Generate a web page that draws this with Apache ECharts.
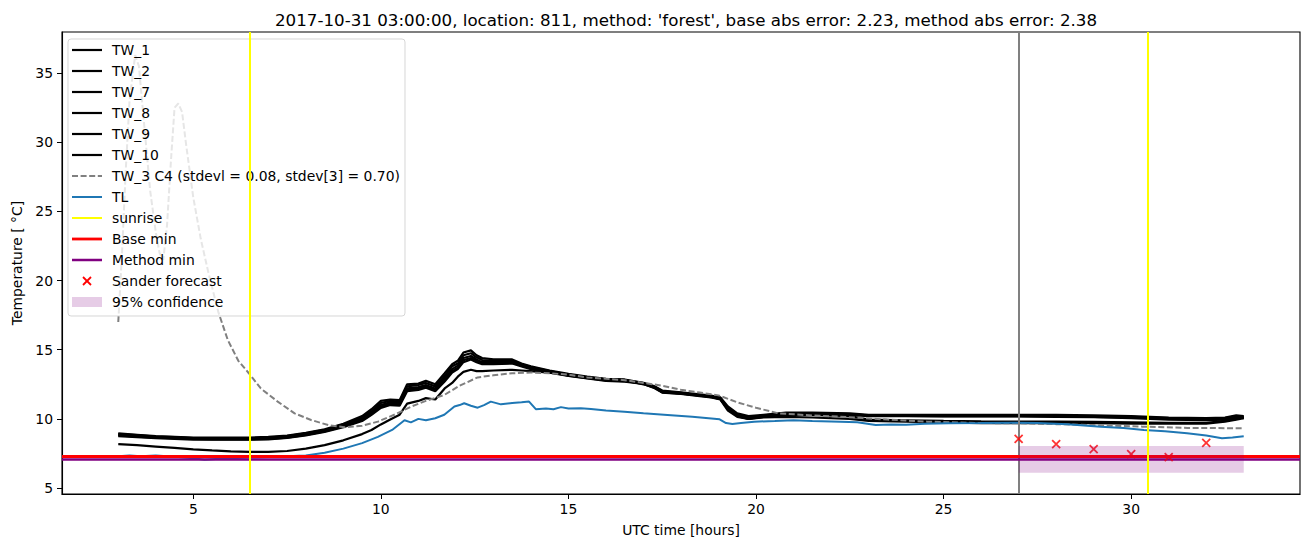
<!DOCTYPE html>
<html>
<head>
<meta charset="utf-8">
<script src="https://cdn.jsdelivr.net/npm/echarts@6/dist/echarts.min.js"></script>
<style>
html,body{margin:0;padding:0;background:#fff;}
#chart{width:1310px;height:547px;}
</style>
</head>
<body>
<div id="chart"></div>
<script>
// ---------- data ----------
const titleText = "2017-10-31 03:00:00, location: 811, method: 'forest', base abs error: 2.23, method abs error: 2.38";
const xTicks = [5, 10, 15, 20, 25, 30];
const yTicks = [5, 10, 15, 20, 25, 30, 35];

const twHours = [3, 3.5, 4, 4.5, 5, 5.5, 6, 6.5, 7, 7.5, 8, 8.5, 9, 9.5, 9.75, 10, 10.25, 10.5, 10.7, 11, 11.2, 11.45, 11.7, 11.9, 12.05, 12.2, 12.4, 12.55, 12.7, 13, 13.5, 13.75, 14, 14.5, 15, 15.5, 16, 16.5, 17, 17.3, 17.5, 18, 18.5, 18.8, 19.05, 19.25, 19.5, 19.8, 20.2, 20.8, 21.5, 22.5, 23, 24, 25, 26, 27, 28, 29, 30, 31, 32, 32.5, 32.8, 33];

const tw1 = [8.95, 8.85, 8.75, 8.7, 8.65, 8.65, 8.65, 8.65, 8.7, 8.8, 9.0, 9.25, 9.65, 10.2, 10.7, 11.3, 11.4, 11.35, 12.5, 12.55, 12.75, 12.5, 13.3, 13.95, 14.2, 14.8, 14.95, 14.6, 14.4, 14.3, 14.3, 14.0, 13.8, 13.5, 13.25, 13.05, 12.9, 12.85, 12.6, 12.35, 12.05, 11.92, 11.78, 11.68, 11.55, 10.9, 10.4, 10.2, 10.3, 10.45, 10.45, 10.4, 10.3, 10.3, 10.3, 10.3, 10.3, 10.3, 10.25, 10.2, 10.1, 10.05, 10.1, 10.25, 10.2];
const tw2 = [8.9, 8.82, 8.72, 8.68, 8.62, 8.6, 8.6, 8.6, 8.65, 8.75, 8.95, 9.2, 9.6, 10.1, 10.55, 11.15, 11.3, 11.25, 12.35, 12.45, 12.6, 12.35, 13.1, 13.8, 14.0, 14.6, 14.75, 14.45, 14.25, 14.2, 14.2, 13.95, 13.75, 13.45, 13.2, 13.0, 12.85, 12.8, 12.58, 12.32, 12.0, 11.88, 11.72, 11.62, 11.5, 10.8, 10.3, 10.1, 10.25, 10.4, 10.4, 10.35, 10.25, 10.25, 10.25, 10.25, 10.25, 10.22, 10.2, 10.15, 10.05, 10.0, 10.05, 10.2, 10.15];
const tw7 = [8.85, 8.78, 8.7, 8.62, 8.58, 8.55, 8.55, 8.55, 8.6, 8.7, 8.9, 9.15, 9.52, 10.0, 10.45, 11.0, 11.2, 11.15, 12.2, 12.3, 12.45, 12.2, 12.95, 13.6, 13.85, 14.4, 14.55, 14.3, 14.1, 14.1, 14.1, 13.9, 13.7, 13.4, 13.15, 12.98, 12.8, 12.75, 12.56, 12.3, 11.95, 11.85, 11.7, 11.6, 11.45, 10.75, 10.25, 10.05, 10.2, 10.35, 10.35, 10.3, 10.25, 10.22, 10.2, 10.2, 10.2, 10.18, 10.15, 10.1, 10.0, 9.95, 10.0, 10.15, 10.1];
const tw8 = [8.8, 8.72, 8.65, 8.6, 8.55, 8.52, 8.52, 8.52, 8.55, 8.65, 8.85, 9.1, 9.45, 9.9, 10.35, 10.9, 11.1, 11.05, 12.1, 12.2, 12.35, 12.1, 12.8, 13.45, 13.7, 14.25, 14.4, 14.2, 14.0, 14.0, 14.05, 13.85, 13.65, 13.38, 13.12, 12.95, 12.78, 12.72, 12.54, 12.27, 11.92, 11.82, 11.68, 11.58, 11.42, 10.7, 10.22, 10.02, 10.18, 10.32, 10.32, 10.28, 10.2, 10.2, 10.18, 10.18, 10.18, 10.15, 10.12, 10.05, 9.95, 9.9, 9.95, 10.1, 10.05];
const tw9 = [8.75, 8.68, 8.6, 8.55, 8.5, 8.5, 8.5, 8.5, 8.52, 8.62, 8.8, 9.05, 9.4, 9.85, 10.3, 10.8, 11.0, 10.95, 12.0, 12.1, 12.25, 12.0, 12.7, 13.35, 13.6, 14.1, 14.3, 14.1, 13.95, 13.95, 14.0, 13.8, 13.6, 13.35, 13.1, 12.92, 12.75, 12.7, 12.52, 12.22, 11.9, 11.8, 11.65, 11.55, 11.4, 10.6, 10.15, 10.0, 10.15, 10.3, 10.28, 10.2, 9.95, 9.9, 9.85, 9.82, 9.8, 9.8, 9.78, 9.75, 9.72, 9.72, 9.85, 10.0, 10.1];
const tw10 = [8.18, 8.1, 8.0, 7.9, 7.8, 7.72, 7.65, 7.62, 7.62, 7.68, 7.85, 8.1, 8.45, 8.9, 9.2, 9.6, 9.95, 10.3, 11.1, 11.3, 11.5, 11.4, 12.2, 12.6, 13.05, 13.4, 13.55, 13.45, 13.45, 13.5, 13.55, 13.5, 13.45, 13.35, 13.2, 13.0, 12.85, 12.8, 12.5, 12.25, 11.95, 11.85, 11.7, 11.6, 11.45, 10.7, 10.2, 10.0, 10.1, 10.15, 10.1, 10.0, 9.85, 9.8, 9.75, 9.7, 9.7, 9.7, 9.7, 9.65, 9.65, 9.65, 9.8, 9.95, 10.05];

const tw3Hours = [3.0, 3.1, 3.2, 3.3, 3.45, 3.55, 3.7, 3.85, 4.0, 4.1, 4.2, 4.3, 4.4, 4.5, 4.6, 4.7, 4.8, 4.9, 5.0, 5.2, 5.4, 5.67, 5.92, 6.2, 6.48, 6.8, 7.25, 7.7, 8.14, 8.6, 9.03, 9.5, 9.92, 10.4, 10.8, 11.2, 11.69, 12.1, 12.58, 13.0, 13.5, 14, 14.5, 15, 15.5, 16, 16.5, 17, 17.5, 18, 18.5, 19.0, 19.5, 20, 20.6, 21.5, 22.25, 23.5, 24.57, 26, 27, 28, 29, 30.3, 31.5, 33];
const tw3 = [17.0, 22.0, 28.0, 33.0, 36.3, 35.5, 31.0, 26.5, 23.5, 22.0, 21.5, 24.0, 28.5, 32.5, 32.8, 32.2, 30.0, 28.0, 26.0, 23.0, 20.6, 17.7, 15.7, 14.2, 13.3, 12.2, 11.25, 10.4, 9.92, 9.55, 9.39, 9.5, 9.8, 10.35, 10.88, 11.3, 11.73, 12.4, 13.0, 13.15, 13.3, 13.35, 13.3, 13.2, 13.0, 12.9, 12.8, 12.6, 12.4, 12.1, 11.9, 11.7, 11.2, 10.8, 10.4, 10.25, 10.16, 9.95, 9.8, 9.7, 9.68, 9.62, 9.55, 9.44, 9.35, 9.32];

const tlHours = [3.0, 3.3, 3.6, 4.0, 4.3, 4.6, 5.0, 5.3, 5.6, 6.0, 6.5, 7.0, 7.5, 8.0, 8.5, 9.0, 9.5, 9.92, 10.3, 10.63, 10.8, 11.0, 11.2, 11.45, 11.69, 11.96, 12.1, 12.22, 12.4, 12.58, 12.75, 12.93, 13.2, 13.5, 13.75, 13.95, 14.13, 14.4, 14.6, 14.8, 15.0, 15.33, 15.6, 16, 16.49, 17, 17.64, 18.3, 19.03, 19.2, 19.37, 19.6, 19.95, 20.5, 21, 21.5, 22.25, 22.7, 23.19, 23.6, 24.0, 24.5, 25.14, 26, 26.87, 27.5, 28.3, 29.19, 29.8, 30.34, 30.9, 31.49, 32.0, 32.42, 32.7, 33];
const tl = [7.3, 7.35, 7.3, 7.35, 7.3, 7.25, 7.15, 7.05, 7.1, 7.15, 7.2, 7.25, 7.3, 7.35, 7.55, 7.85, 8.25, 8.7, 9.2, 9.9, 9.75, 10.0, 9.9, 10.05, 10.3, 10.9, 11.0, 11.13, 10.95, 10.81, 11.0, 11.25, 11.05, 11.15, 11.2, 11.25, 10.7, 10.75, 10.7, 10.85, 10.75, 10.77, 10.72, 10.6, 10.52, 10.4, 10.28, 10.15, 9.97, 9.7, 9.63, 9.7, 9.8, 9.85, 9.9, 9.85, 9.8, 9.75, 9.56, 9.6, 9.58, 9.65, 9.68, 9.7, 9.73, 9.7, 9.62, 9.44, 9.35, 9.2, 9.1, 8.96, 8.8, 8.6, 8.65, 8.75];

const sunriseHours = [6.5, 30.45];
const nowHour = 27;
const baseMin = 7.27;
const methodMin = 7.1;

const sanderHours = [27, 28, 29, 30, 31, 32];
const sanderTemp = [8.55, 8.18, 7.82, 7.46, 7.24, 8.26];

const confHours = [27, 33];
const confTemp = [6.11, 8.04];

const legendNames = ['TW_1', 'TW_2', 'TW_7', 'TW_8', 'TW_9', 'TW_10',
  'TW_3 C4 (stdevl = 0.08, stdev[3] = 0.70)', 'TL', 'sunrise', 'Base min', 'Method min',
  'Sander forecast', '95% confidence'];

// ---------- styles ----------
const FONT = 'DejaVu Sans';
const CONF_FILL = 'rgba(128,0,128,0.2)';
const STY = {
  tw: { stroke: '#000', width: 2.2 },
  tw3: { stroke: '#808080', width: 2, dash: [6, 2.6] },
  tl: { stroke: '#1f77b4', width: 2 },
  sun: { stroke: '#ffff00', width: 2 },
  base: { stroke: '#ff0000', width: 2.8 },
  method: { stroke: '#800080', width: 2.5 }
};
const legendKinds = ['tw', 'tw', 'tw', 'tw', 'tw', 'tw', 'tw3', 'tl', 'sun', 'base', 'method', 'x', 'patch'];

const pairs = (xs, ys) => xs.map((x, i) => [x, ys[i]]);
const blackLine = (name, ys) => ({
  name, type: 'line', data: pairs(twHours, ys), showSymbol: false, symbol: 'none',
  lineStyle: { color: STY.tw.stroke, width: STY.tw.width }, itemStyle: { color: '#000' }, z: 2
});

// legend drawn as graphic (matplotlib-like box)
const LEG_X = 68, LEG_Y = 39, LEG_W = 337, LEG_H = 277, ROW0 = 11, ROW = 21, LZ = 100;
const legendEls = [{
  type: 'rect', z: LZ, silent: true, shape: { x: LEG_X, y: LEG_Y, width: LEG_W, height: LEG_H, r: 3 },
  style: { fill: 'rgba(255,255,255,0.8)', stroke: 'rgba(204,204,204,0.8)', lineWidth: 1 }
}];
legendNames.forEach((name, i) => {
  const cy = LEG_Y + ROW0 + ROW * i;
  const kind = legendKinds[i];
  if (kind === 'x') {
    legendEls.push({ type: 'line', z: LZ + 1, silent: true, shape: { x1: LEG_X + 15, y1: cy - 4, x2: LEG_X + 23, y2: cy + 4 }, style: { stroke: '#ff0000', lineWidth: 1.8 } });
    legendEls.push({ type: 'line', z: LZ + 1, silent: true, shape: { x1: LEG_X + 23, y1: cy - 4, x2: LEG_X + 15, y2: cy + 4 }, style: { stroke: '#ff0000', lineWidth: 1.8 } });
  } else if (kind === 'patch') {
    legendEls.push({ type: 'rect', z: LZ + 1, silent: true, shape: { x: LEG_X + 4, y: cy - 5, width: 30, height: 10 }, style: { fill: CONF_FILL } });
  } else {
    const s = STY[kind];
    legendEls.push({ type: 'line', z: LZ + 1, silent: true, shape: { x1: LEG_X + 4, y1: cy, x2: LEG_X + 34, y2: cy },
      style: { stroke: s.stroke, lineWidth: s.width, lineDash: s.dash || null } });
  }
  legendEls.push({ type: 'text', z: LZ + 1, silent: true, x: LEG_X + 44, y: cy,
    style: { text: name, fontFamily: FONT, fontSize: 13.9, fill: '#000', verticalAlign: 'middle', align: 'left' } });
});

const chart = echarts.init(document.getElementById('chart'), null, { renderer: 'svg' });
const option = {
  animation: false,
  backgroundColor: '#fff',
  title: {
    text: titleText, left: 681, top: 6, textAlign: 'center',
    textStyle: { fontFamily: FONT, fontSize: 16.7, fontWeight: 'normal', color: '#000' }
  },
  grid: { left: 62, right: 10, top: 32, bottom: 53, show: true, borderColor: '#000', borderWidth: 1.1, backgroundColor: 'transparent' },
  xAxis: {
    type: 'value', min: 1.5, max: 34.5,
    name: 'UTC time [hours]', nameLocation: 'middle', nameGap: 29,
    nameTextStyle: { fontFamily: FONT, fontSize: 13.9, color: '#000' },
    axisLine: { show: true, lineStyle: { color: '#000', width: 1.1 } },
    axisTick: { show: true, length: 5, customValues: xTicks, lineStyle: { color: '#000' } },
    axisLabel: { customValues: xTicks, margin: 8, fontFamily: FONT, fontSize: 13.9, color: '#000' },
    splitLine: { show: false }
  },
  yAxis: {
    type: 'value', min: 4.57, max: 37.97,
    name: 'Temperature [ °C]', nameLocation: 'middle', nameGap: 37, nameRotate: 90,
    nameTextStyle: { fontFamily: FONT, fontSize: 13.9, color: '#000' },
    axisLine: { show: true, lineStyle: { color: '#000', width: 1.1 } },
    axisTick: { show: true, length: 5, customValues: yTicks, lineStyle: { color: '#000' } },
    axisLabel: { customValues: yTicks, margin: 9, fontFamily: FONT, fontSize: 13.9, color: '#000' },
    splitLine: { show: false }
  },
  graphic: { elements: legendEls },
  series: [
    blackLine(legendNames[0], tw1),
    blackLine(legendNames[1], tw2),
    blackLine(legendNames[2], tw7),
    blackLine(legendNames[3], tw8),
    blackLine(legendNames[4], tw9),
    blackLine(legendNames[5], tw10),
    {
      name: legendNames[6], type: 'line', data: pairs(tw3Hours, tw3),
      showSymbol: false, symbol: 'none', z: 3,
      lineStyle: { color: STY.tw3.stroke, width: STY.tw3.width, type: STY.tw3.dash }, itemStyle: { color: '#808080' }
    },
    {
      name: legendNames[7], type: 'line', data: pairs(tlHours, tl), showSymbol: false, symbol: 'none', z: 4,
      lineStyle: { color: STY.tl.stroke, width: STY.tl.width }, itemStyle: { color: '#1f77b4' }
    },
    {
      name: legendNames[8], type: 'line', data: [], symbol: 'none', z: 110,
      markLine: { silent: true, symbol: 'none', label: { show: false }, animation: false, z: 110,
        lineStyle: { color: STY.sun.stroke, width: STY.sun.width, type: 'solid' },
        data: sunriseHours.map(h => ({ xAxis: h })) }
    },
    {
      name: 'now', type: 'line', data: [], symbol: 'none', z: 5,
      markLine: { silent: true, symbol: 'none', label: { show: false }, animation: false,
        lineStyle: { color: '#808080', width: 2, type: 'solid' },
        data: [{ xAxis: nowHour }] }
    },
    {
      name: legendNames[9], type: 'line', data: [], symbol: 'none', z: 6,
      markLine: { silent: true, symbol: 'none', label: { show: false }, animation: false,
        lineStyle: { color: STY.base.stroke, width: STY.base.width, type: 'solid' },
        data: [{ yAxis: baseMin }] }
    },
    {
      name: legendNames[10], type: 'line', data: [], symbol: 'none', z: 7,
      markLine: { silent: true, symbol: 'none', label: { show: false }, animation: false,
        lineStyle: { color: STY.method.stroke, width: STY.method.width, type: 'solid' },
        data: [{ yAxis: methodMin }] }
    },
    {
      name: legendNames[11], type: 'scatter', data: pairs(sanderHours, sanderTemp), z: 8,
      symbol: 'path://M0,0L10,10M10,0L0,10', symbolSize: 8, symbolKeepAspect: true,
      itemStyle: { color: 'none', borderColor: '#ff0000', borderWidth: 1.8 }
    },
    {
      name: legendNames[12], type: 'custom', z: 9,
      data: [[confHours[0], confHours[1], confTemp[0], confTemp[1]]],
      encode: { x: [0, 1], y: [2, 3] },
      itemStyle: { color: CONF_FILL },
      renderItem: (params, api) => {
        const p0 = api.coord([api.value(0), api.value(3)]);
        const p1 = api.coord([api.value(1), api.value(2)]);
        return { type: 'rect', shape: { x: p0[0], y: p0[1], width: p1[0] - p0[0], height: p1[1] - p0[1] },
          style: { fill: CONF_FILL } };
      }
    }
  ]
};
chart.setOption(option);
</script>
</body>
</html>
